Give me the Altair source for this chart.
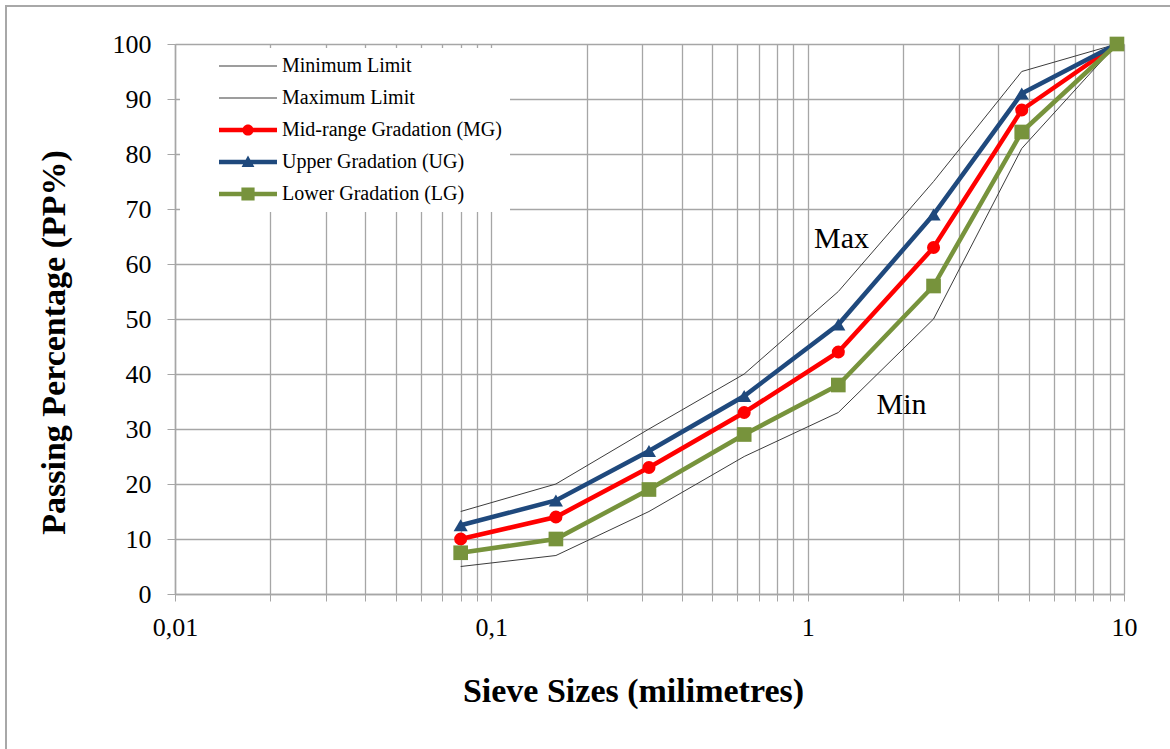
import altair as alt
import pandas as pd

# Sieve openings (mm) and cumulative passing percentages
sieve_mm = [0.08, 0.16, 0.315, 0.63, 1.25, 2.5, 4.75, 9.5]
min_limit = [5, 7, 15, 25, 33, 50, 81, 100]
max_limit = [15, 20, 30, 40, 55, 75, 95, 100]
mid_range = [10, 14, 23, 33, 44, 63, 88, 100]
upper_grad = [12.5, 17, 26, 36, 49, 69, 91, 100]
lower_grad = [7.5, 10, 19, 29, 38, 56, 84, 100]

series_names = [
    "Minimum Limit",
    "Maximum Limit",
    "Mid-range Gradation (MG)",
    "Upper Gradation (UG)",
    "Lower Gradation (LG)",
]
series_values = [min_limit, max_limit, mid_range, upper_grad, lower_grad]
series_colors = ["#3C3C3C", "#3C3C3C", "#FF0000", "#1F497D", "#77933C"]
series_widths = [1, 1, 4.5, 4.5, 4.5]
marker_shapes = ["", "", "circle", "triangle-up", "square"]
marker_sizes = [0, 0, 170, 200, 215]

# Legend glyphs: a line segment with the series marker on top
# (1 unit = 10 px at symbolSize 400; the segment runs wider than the nominal box)
legend_glyphs = [
    "M-2.9,-0.05H2.9V0.05H-2.9Z",
    "M-2.9,-0.05H2.9V0.05H-2.9Z",
    "M-2.9,-0.22H2.9V0.22H-2.9Z M0.56,0A0.56,0.56 0 1,1 -0.56,0A0.56,0.56 0 1,1 0.56,0Z",
    "M-2.9,-0.22H2.9V0.22H-2.9Z M-0.64,0.5L0,-0.66L0.64,0.5Z",
    "M-2.9,-0.22H2.9V0.22H-2.9Z M-0.66,-0.66H0.66V0.66H-0.66Z",
]

# Axis ticks: log grid with minor lines, labels only at decades
x_tick_values = [0.01, 0.02, 0.03, 0.04, 0.05, 0.06, 0.07, 0.08, 0.09,
                 0.1, 0.2, 0.3, 0.4, 0.5, 0.6, 0.7, 0.8, 0.9,
                 1, 2, 3, 4, 5, 6, 7, 8, 9, 10]
x_label_values = [0.01, 0.1, 1, 10]
y_tick_values = [0, 10, 20, 30, 40, 50, 60, 70, 80, 90, 100]

# Limit-curve annotations
note_text = ["Max", "Min"]
note_x = [1.28, 1.98]
note_y = [64.6, 34.4]

rows = []
for name, vals in zip(series_names, series_values):
    for s, v in zip(sieve_mm, vals):
        rows.append({"series": name, "sieve": s, "passing": v})
df = pd.DataFrame(rows)
notes = pd.DataFrame({"label": note_text, "sieve": note_x, "passing": note_y})

SERIF = "Liberation Serif"
GRID = "#A6A6A6"

label_list = "[" + ", ".join(str(v) for v in x_label_values) + "]"
x_label_expr = (
    f"indexof({label_list}, datum.value) >= 0 ? replace('' + datum.value, '.', ',') : ''"
)

x_enc = alt.X(
    "sieve:Q",
    scale=alt.Scale(type="log", domain=[0.01, 10], nice=False),
    axis=alt.Axis(
        values=x_tick_values,
        labelExpr=x_label_expr,
        labelOverlap=False,
        labelFlush=False,
        labelFont=SERIF,
        labelFontSize=26,
        labelColor="#000000",
        labelPadding=13,
        tickSize=7,
        tickColor=GRID,
        domainColor=GRID,
        domainWidth=1.5,
        grid=True,
        gridColor=GRID,
        gridWidth=1.3,
        title="Sieve Sizes (milimetres)",
        titleFont=SERIF,
        titleFontSize=34,
        titleFontWeight="bold",
        titleColor="#000000",
        titleX=458,
        titleY=97,
        titleAlign="center",
        titleBaseline="middle",
    ),
)
y_enc = alt.Y(
    "passing:Q",
    scale=alt.Scale(domain=[0, 100], nice=False),
    axis=alt.Axis(
        values=y_tick_values,
        labelFont=SERIF,
        labelFontSize=26,
        labelColor="#000000",
        labelPadding=16,
        tickSize=8,
        tickColor=GRID,
        domainColor=GRID,
        domainWidth=1.5,
        grid=True,
        gridColor=GRID,
        gridWidth=1.3,
        title="Passing Percentage (PP%)",
        titleFont=SERIF,
        titleFontSize=34,
        titleFontWeight="bold",
        titleColor="#000000",
        titleX=-121,
        titleY=298,
        titleAlign="center",
        titleBaseline="middle",
    ),
)
color_scale = alt.Scale(domain=series_names, range=series_colors)

legend_props = dict(
    orient="none",
    legendX=5,
    legendY=4,
    fillColor="#FFFFFF",
    padding=8,
    symbolOffset=50,
    symbolSize=400,
    symbolOpacity=1,
    symbolStrokeWidth=0,
    labelFont=SERIF,
    labelFontSize=20,
    labelColor="#000000",
    labelOffset=24,
    labelLimit=400,
    rowPadding=12,
)

base = alt.Chart(df)
layers = []

# Outer figure border
frame = alt.Chart(pd.DataFrame({"k": [0]})).mark_rect(
    fillOpacity=0, stroke="#A8A8A8", strokeWidth=2
).encode(x=alt.value(-169), x2=alt.value(1100), y=alt.value(-38), y2=alt.value(800))
layers.append(frame)

# Each series: its line, then its markers on top
for name, col, w, shp, sz in zip(series_names, series_colors, series_widths, marker_shapes, marker_sizes):
    sub = base.transform_filter(alt.datum.series == name)
    layers.append(sub.mark_line(strokeWidth=w, color=col).encode(x=x_enc, y=y_enc))
    if shp:
        layers.append(
            sub.mark_point(shape=shp, filled=True, size=sz, opacity=1, color=col).encode(
                x=x_enc, y=y_enc
            )
        )

# Legend carrier: invisible points whose legend shows line+marker glyphs
legend_layer = base.transform_filter(alt.datum.sieve == 9.5).mark_point(
    filled=True, opacity=0
).encode(
    x=x_enc,
    y=y_enc,
    color=alt.Color("series:N", scale=color_scale, title=None, legend=alt.Legend(**legend_props)),
    shape=alt.Shape(
        "series:N",
        scale=alt.Scale(domain=series_names, range=legend_glyphs),
        title=None,
        legend=alt.Legend(**legend_props),
    ),
)
layers.append(legend_layer)

note_layer = alt.Chart(notes).mark_text(
    font=SERIF, fontSize=30, color="#000000", align="center", baseline="middle"
).encode(x=x_enc, y=y_enc, text="label:N")
layers.append(note_layer)

chart = alt.layer(*layers).properties(
    width=949,
    height=550,
    autosize=alt.AutoSizeParams(type="none"),
    padding={"left": 175, "top": 44, "right": 46, "bottom": 155},
).configure_view(strokeWidth=0).configure(background="#FFFFFF")

chart.save("out.html", embed_options={"renderer": "svg", "actions": False})
